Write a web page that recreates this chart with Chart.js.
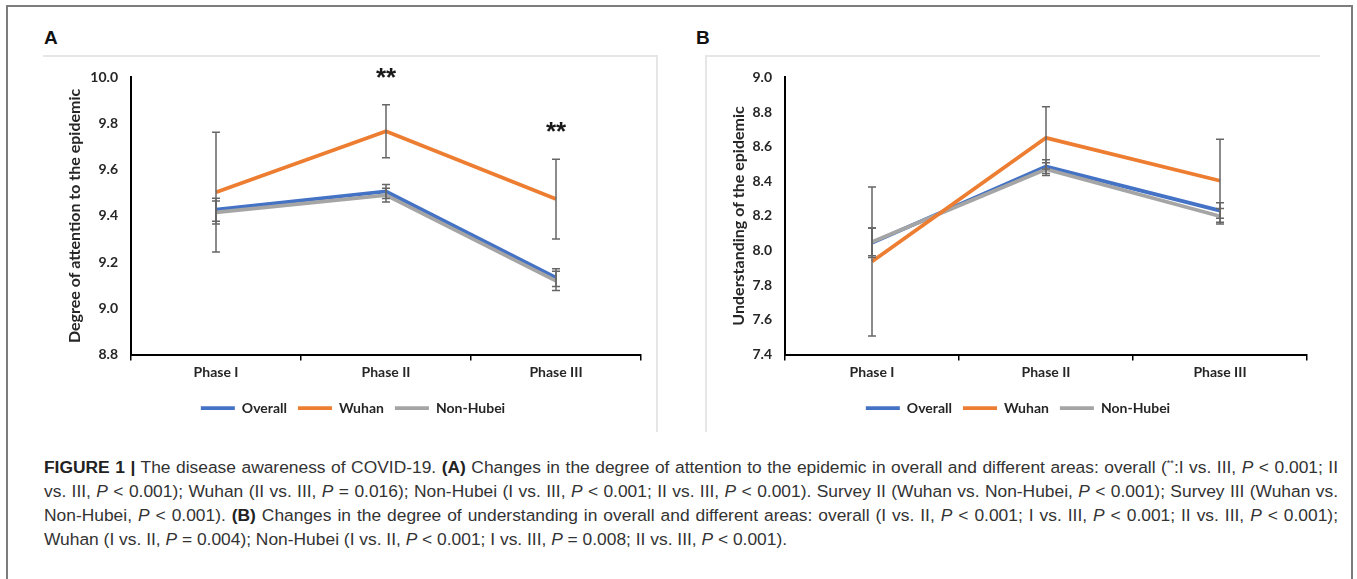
<!DOCTYPE html>
<html>
<head>
<meta charset="utf-8">
<script src="https://cdn.jsdelivr.net/npm/chart.js@4.4.1/dist/chart.umd.min.js"></script>
<style>
html, body { margin: 0; padding: 0; background: #fff; }
body { width: 1357px; height: 579px; position: relative; overflow: hidden; font-family: "Liberation Sans", Arial, sans-serif; }
.frame { position: absolute; left: 6px; top: 5px; width: 1347px; height: 600px; border: 2px solid #7d7d7d; box-sizing: border-box; }
.tag { position: absolute; top: 27px; font: bold 19px "Liberation Sans", Arial, sans-serif; color: #111; }
.line { position: absolute; background: #e6e6e6; }
.wrap { position: absolute; top: 56px; height: 376px; }
.cap { position: absolute; left: 44px; top: 455px; width: 1294px; font-size: 17.4px; line-height: 24px; color: #333; }
.cap div { text-align: justify; text-align-last: justify; white-space: nowrap; }
.cap div.last { text-align-last: left; }
.cap b { color: #222; }
.cap sup { font-size: 9px; line-height: 0; }
</style>
</head>
<body>
<div class="frame"></div>
<div class="tag" style="left:44px">A</div>
<div class="tag" style="left:696px">B</div>
<div class="line" style="left:43px; top:55px; width:614px; height:2px"></div>
<div class="line" style="left:656px; top:55px; width:2px; height:377px"></div>
<div class="line" style="left:705px; top:55px; width:615px; height:2px"></div>
<div class="line" style="left:705px; top:55px; width:2px; height:377px"></div>
<div class="wrap" style="left:43px; width:613px"><canvas id="chartA" width="613" height="376"></canvas></div>
<div class="wrap" style="left:707px; width:613px"><canvas id="chartB" width="613" height="376"></canvas></div>
<div class="cap">
<div><b>FIGURE 1 |</b> The disease awareness of COVID-19. <b>(A)</b> Changes in the degree of attention to the epidemic in overall and different areas: overall (<sup>**</sup>:I vs. III, <i>P</i> &lt; 0.001; II</div>
<div>vs. III, <i>P</i> &lt; 0.001); Wuhan (II vs. III, <i>P</i> = 0.016); Non-Hubei (I vs. III, <i>P</i> &lt; 0.001; II vs. III, <i>P</i> &lt; 0.001). Survey II (Wuhan vs. Non-Hubei, <i>P</i> &lt; 0.001); Survey III (Wuhan vs.</div>
<div>Non-Hubei, <i>P</i> &lt; 0.001). <b>(B)</b> Changes in the degree of understanding in overall and different areas: overall (I vs. II, <i>P</i> &lt; 0.001; I vs. III, <i>P</i> &lt; 0.001; II vs. III, <i>P</i> &lt; 0.001);</div>
<div class="last">Wuhan (I vs. II, <i>P</i> = 0.004); Non-Hubei (I vs. II, <i>P</i> &lt; 0.001; I vs. III, <i>P</i> = 0.008; II vs. III, <i>P</i> &lt; 0.001).</div>
</div>
<script>
const categories = ['Phase I', 'Phase II', 'Phase III'];
const seriesNames = ['Overall', 'Wuhan', 'Non-Hubei'];
const seriesColors = ['#4472C4', '#ED7D31', '#A5A5A5'];

// panel A: degree of attention
const overallA = [9.427, 9.506, 9.133];
const wuhanA = [9.503, 9.767, 9.473];
const nonHubeiA = [9.415, 9.490, 9.119];
const overallErrA = [0.05, 0.03, 0.038];
const wuhanErrA = [0.259, 0.115, 0.173];
const nonHubeiErrA = [0.05, 0.03, 0.042];
const starTextA = ['', '**', '**'];
const starYA = [null, 10.0, 9.77];

// panel B: understanding
const overallB = [8.045, 8.485, 8.231];
const wuhanB = [7.937, 8.651, 8.403];
const nonHubeiB = [8.05, 8.47, 8.198];
const overallErrB = [0.085, 0.04, 0.045];
const wuhanErrB = [0.43, 0.18, 0.24];
const nonHubeiErrB = [0.08, 0.037, 0.045];

const FONT = 'Lato, "Open Sans", sans-serif';
const TEXT = '#262626';

const errorBars = {
    id: 'errorBars',
    afterDatasetsDraw(chart, args, opts) {
        const { ctx } = chart;
        const x = chart.scales.x, y = chart.scales.y;
        ctx.save();
        ctx.strokeStyle = '#666666';
        ctx.lineWidth = 1.5;
        chart.data.datasets.forEach(ds => {
            (ds.errors || []).forEach((e, i) => {
                const px = x.getPixelForValue(i);
                const top = y.getPixelForValue(ds.data[i] + e);
                const bot = y.getPixelForValue(ds.data[i] - e);
                ctx.beginPath();
                ctx.moveTo(px, top); ctx.lineTo(px, bot);
                ctx.moveTo(px - 4, top); ctx.lineTo(px + 4, top);
                ctx.moveTo(px - 4, bot); ctx.lineTo(px + 4, bot);
                ctx.stroke();
            });
        });
        // significance marks
        const txt = opts.starText || [];
        const ys = opts.starY || [];
        ctx.fillStyle = '#1a1a1a';
        ctx.font = 'bold 26px "Liberation Sans", Arial, sans-serif';
        ctx.textAlign = 'center';
        ctx.textBaseline = 'alphabetic';
        txt.forEach((t, i) => {
            if (!t) return;
            const px = x.getPixelForValue(i);
            const py = y.getPixelForValue(ys[i]);
            ctx.fillText(t, px, py + 9);
        });
        ctx.restore();
    }
};

function makeChart(id, series, errors, yMin, yMax, yTitle, yWidth, pad, stars) {
    return new Chart(document.getElementById(id), {
        type: 'line',
        data: {
            labels: categories,
            datasets: seriesNames.map((name, k) => ({
                label: name,
                data: series[k],
                errors: errors[k],
                borderColor: seriesColors[k],
                backgroundColor: seriesColors[k],
                borderWidth: 3.75,
                pointRadius: 0,
                tension: 0,
                order: [2, 0, 1][k]
            }))
        },
        options: {
            responsive: false,
            animation: false,
            layout: { padding: pad },
            scales: {
                x: {
                    offset: true,
                    grid: { offset: true, drawOnChartArea: false, drawTicks: true, tickLength: 6, color: '#000', lineWidth: 1.5 },
                    border: { display: true, color: '#000', width: 2 },
                    ticks: { padding: 4, color: TEXT, font: { family: FONT, size: 14, weight: 'bold' } },
                    afterFit: s => { s.height = 35.5; }
                },
                y: {
                    min: yMin,
                    max: yMax,
                    grid: { display: true, drawOnChartArea: false, drawTicks: false },
                    border: { display: true, color: '#000', width: 2 },
                    ticks: {
                        stepSize: 0.2,
                        padding: 13,
                        color: TEXT,
                        font: { family: FONT, size: 14, weight: 'bold' },
                        callback: v => v.toFixed(1)
                    },
                    title: {
                        display: true,
                        text: yTitle,
                        color: TEXT,
                        padding: { top: 0, bottom: 0 },
                        font: { family: FONT, size: 16, weight: 'bold' }
                    },
                    afterFit: s => { s.width = yWidth; }
                }
            },
            plugins: {
                legend: {
                    position: 'bottom',
                    labels: {
                        usePointStyle: true,
                        pointStyle: 'line',
                        pointStyleWidth: 34,
                        padding: 11,
                        color: TEXT,
                        font: { family: FONT, size: 14, weight: 'bold' },
                        sort: (a, b) => a.datasetIndex - b.datasetIndex
                    }
                },
                tooltip: { enabled: false },
                errorBars: stars
            }
        },
        plugins: [errorBars]
    });
}

makeChart('chartA',
    [overallA, wuhanA, nonHubeiA],
    [overallErrA, wuhanErrA, nonHubeiErrA],
    8.8, 10.0, 'Degree of attention to the epidemic', 66,
    { left: 22, right: 15, top: 19, bottom: 7 },
    { starText: starTextA, starY: starYA });

makeChart('chartB',
    [overallB, wuhanB, nonHubeiB],
    [overallErrB, wuhanErrB, nonHubeiErrB],
    7.4, 9.0, 'Understanding of the epidemic', 56,
    { left: 22, right: 13, top: 19, bottom: 7 },
    { starText: [], starY: [] });
</script>
</body>
</html>
